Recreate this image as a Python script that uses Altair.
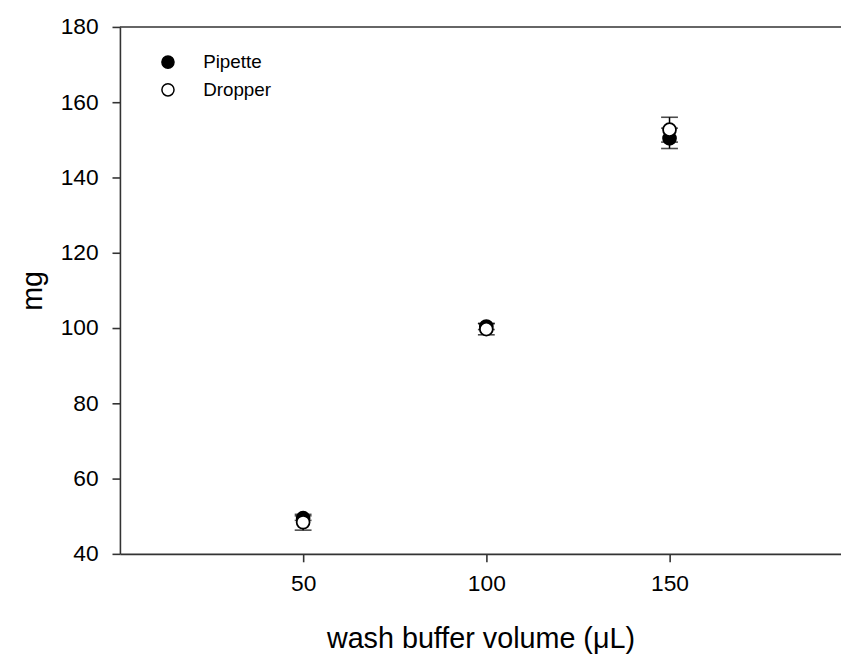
import altair as alt
import pandas as pd

volumes = [50, 100, 150]
series_names = ["Pipette", "Dropper"]
pipette_mean = [49.5, 100.4, 150.4]
pipette_err = [0.6, 0.8, 2.7]
dropper_mean = [48.4, 99.7, 152.7]
dropper_err = [2.1, 1.5, 3.3]
x_ticks = [50, 100, 150]
y_ticks = [40, 60, 80, 100, 120, 140, 160, 180]

rows = []
for name, means, errs in [("Pipette", pipette_mean, pipette_err),
                          ("Dropper", dropper_mean, dropper_err)]:
    for v, m, e in zip(volumes, means, errs):
        rows.append({"volume": v, "mg": m, "err": e, "method": name})
df = pd.DataFrame(rows)

FONT = "Liberation Sans"
AX = "#333333"

xsc = alt.Scale(domain=[0, 196.8], nice=False, zero=False)
ysc = alt.Scale(domain=[40, 180], nice=False, zero=False)

x_enc = alt.X("volume:Q", scale=xsc,
              axis=alt.Axis(values=x_ticks, title="wash buffer volume (μL)",
                            labelPadding=11, titlePadding=30))
y_enc = alt.Y("mg:Q", scale=ysc,
              axis=alt.Axis(values=y_ticks, title="mg", labelPadding=14,
                            titlePadding=13))

base = alt.Chart(df).transform_calculate(
    lo="datum.mg - datum.err", hi="datum.mg + datum.err")

frame_top = alt.Chart(pd.DataFrame({"a": [0]})).mark_rule(
    color=AX, strokeWidth=1.6).encode(
    y=alt.datum(180), x=alt.value(0), x2=alt.value(728))

err_rule = base.mark_rule(color="black", strokeWidth=1.5).encode(
    x=x_enc, y=alt.Y("lo:Q", scale=ysc), y2="hi:Q")

caps = base.transform_fold(["lo", "hi"], as_=["k", "capv"]).mark_tick(
    orient="horizontal", color="black", size=17, thickness=1.6).encode(
    x=x_enc, y=alt.Y("capv:Q", scale=ysc))

points = base.mark_point(filled=True, shape="circle", size=170, stroke="black",
                         strokeWidth=1.8, opacity=1).encode(
    x=x_enc, y=y_enc,
    fill=alt.Fill("method:N",
                  scale=alt.Scale(domain=series_names, range=["black", "white"]),
                  legend=alt.Legend(title=None, orient="none", legendX=39,
                                    legendY=26, labelFontSize=19,
                                    labelFont=FONT, symbolSize=150,
                                    symbolType="circle",
                                    symbolStrokeColor="black",
                                    symbolStrokeWidth=1.5, labelOffset=26,
                                    rowPadding=8, padding=0)))

chart = alt.layer(frame_top, err_rule, caps, points).properties(
    width=728, height=532,
    autosize=alt.AutoSizeParams(type="none"),
    padding={"left": 113, "top": 16, "right": 0, "bottom": 100},
).configure_view(stroke=None).configure_axis(
    domainColor=AX, domainWidth=1.6, tickColor=AX, tickWidth=1.6, tickSize=8,
    grid=False, labelFont=FONT, titleFont=FONT, labelFontSize=23,
    titleFontSize=29, titleFontWeight="normal", labelColor="black",
    titleColor="black")

chart.save("out.html", embed_options={"renderer": "svg", "actions": False})
